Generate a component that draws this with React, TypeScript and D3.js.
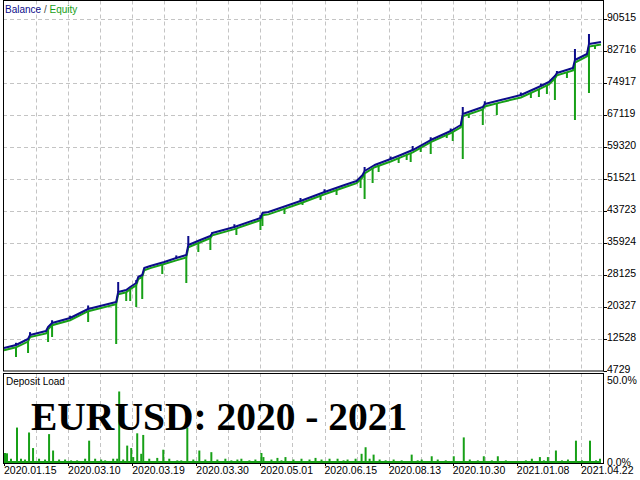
import React from 'react';
import * as d3 from 'd3';

// balance curve: [deal number, balance]
const balance: [number, number][] = [
  [0, 10334], [6, 11065], [12, 12527], [13, 13502], [21, 14477], [22, 15452],
  [24, 16427], [33, 17645], [42, 19838], [56, 21544], [57, 23981], [61, 24469],
  [63, 25200], [66, 26175], [67, 27637], [69, 28124], [70, 29830], [73, 30318],
  [80, 31292], [86, 32267], [91, 32998], [92, 35435], [98, 36654], [103, 37629],
  [104, 38360], [115, 39822], [128, 42015], [129, 43234], [132, 43477], [148, 46158],
  [160, 48351], [170, 50057], [176, 51032], [179, 52494], [180, 53469], [185, 54931],
  [193, 56393], [198, 57368], [204, 58587], [213, 61024], [223, 63217], [228, 64679],
  [229, 67360], [239, 69066], [240, 69797], [248, 70772], [258, 71990], [268, 74184],
  [272, 75158], [275, 76621], [276, 77352], [284, 78570], [285, 80520], [291, 81982],
  [292, 84419], [298, 84906],
];

// short balance peaks: [deal, peak]
const balanceSpikes: [number, number][] = [
  [6, 11600], [13, 14200], [24, 17100], [33, 18200], [42, 20700], [57, 26418], [66, 26900],
  [86, 32900], [92, 37629], [104, 38603], [115, 40500], [128, 42700], [148, 46900],
  [160, 49000], [180, 54444], [193, 57000], [204, 59562], [213, 61700], [223, 63800],
  [229, 69066], [240, 70500], [258, 72600], [268, 74800], [276, 77839], [285, 83200],
  [292, 86856],
];

// equity curve: [deal, equity]
const equity: [number, number][] = [
  [0, 9800], [6, 10500], [12, 11900], [13, 13000], [21, 13900], [22, 14900],
  [24, 15900], [33, 17100], [42, 19300], [56, 21000], [57, 23400], [61, 23900],
  [63, 24700], [66, 25600], [67, 27100], [69, 27600], [70, 29300], [73, 29800],
  [80, 30800], [86, 31700], [91, 32400], [92, 34900], [98, 36100], [103, 37100],
  [104, 37800], [115, 39300], [128, 41500], [129, 42700], [132, 42900], [148, 45600],
  [160, 47800], [170, 49500], [176, 50500], [179, 51900], [180, 52900], [185, 54400],
  [193, 55800], [198, 56800], [204, 58000], [213, 60500], [223, 62700], [228, 64100],
  [229, 66800], [239, 68500], [240, 69200], [248, 70200], [258, 71400], [268, 73600],
  [272, 74600], [275, 76000], [276, 76800], [284, 78000], [285, 79900], [291, 81400],
  [292, 83800], [298, 84300],
];

// equity drawdowns: [deal, lowest equity]
const equityDips: [number, number][] = [
  [6, 8141], [12, 9116], [22, 11796], [24, 13015], [42, 16670], [56, 11309],
  [61, 21788], [63, 21788], [66, 20326], [69, 22275], [79, 28368], [91, 26175],
  [97, 33729], [103, 34217], [116, 37872], [128, 39091], [129, 40066], [140, 42990],
  [149, 45183], [158, 46402], [166, 47620], [178, 49326], [180, 46645], [184, 50545],
  [187, 53225], [197, 55419], [201, 56150], [203, 55662], [208, 58099], [213, 57612],
  [221, 61511], [224, 60780], [229, 56393], [232, 66385], [239, 64679], [246, 67116],
  [263, 71259], [267, 71503], [271, 72234], [275, 70772], [281, 76133], [285, 65898],
  [292, 72478], [295, 83200],
];

// deposit load: [deal, percent]
const depositLoad: [number, number][] = [
  [0, 5.5], [1, 5.3], [3, 2], [6, 21], [8, 2], [10, 1.5], [12, 18], [14, 8.5], [17, 2],
  [20, 1.5], [22, 17], [24, 7], [27, 1.5], [30, 1.5], [33, 1], [36, 1], [40, 2], [42, 13],
  [45, 2], [48, 1.5], [50, 1], [54, 2], [56, 2], [57, 43], [59, 1.5], [61, 10], [63, 8.5],
  [64, 3], [66, 17.5], [68, 5], [69, 16.5], [72, 2], [76, 2.5], [79, 7.5], [82, 2],
  [86, 1], [88, 1], [91, 21], [94, 1.5], [97, 7], [100, 1.5], [103, 6], [106, 1.5],
  [110, 2], [113, 1], [116, 1.5], [118, 2], [122, 1], [125, 1.5], [128, 5.5], [129, 3],
  [133, 1.5], [136, 2.5], [138, 1], [140, 3], [144, 1.5], [148, 2], [152, 1.5], [155, 2.5],
  [158, 1.5], [162, 2], [166, 2], [169, 1], [171, 1.5], [175, 2], [178, 5], [180, 9],
  [182, 2], [184, 4.5], [187, 1.5], [190, 1], [194, 1.5], [198, 1], [203, 4.5], [206, 1],
  [208, 1.5], [213, 3.5], [216, 1.5], [220, 1], [224, 3.5], [229, 15], [232, 1.5],
  [236, 1], [239, 3.5], [243, 1], [246, 3.5], [250, 1], [255, 0.5], [260, 1], [263, 2],
  [267, 3], [269, 1], [271, 3], [275, 7], [278, 1], [281, 1.5], [285, 13], [288, 1],
  [292, 13], [295, 1], [297, 2],
];

const valueTicks = [4729, 12528, 20327, 28125, 35924, 43723, 51521, 59320, 67119, 74917, 82716, 90515];
const dateLabels = [
  '2020.01.15', '2020.03.10', '2020.03.19', '2020.03.30', '2020.05.01',
  '2020.06.15', '2020.08.13', '2020.10.30', '2021.01.08', '2021.04.22',
];
const loadTicks = [0, 50];

const BLUE = '#0c0c8a';
const GREEN = '#17a017';
const GRID = '#c4c4c4';
const FONT = '"Liberation Sans", Arial, sans-serif';

export default function App() {
  const width = 640;
  const height = 480;
  const left = 3, right = 603;
  const mainTop = 0.5, mainBottom = 371;
  const loadTop = 373, loadBottom = 463;

  const x = d3.scaleLinear().domain([0, 299]).range([4, 603]);
  const y = d3.scaleLinear().domain([4729, 90515]).range([371, 19]);
  const yLoad = d3.scaleLinear().domain([0, 50]).range([462, 380]);

  const balanceAt = d3.scaleLinear().domain(balance.map(d => d[0])).range(balance.map(d => d[1]));
  const equityAt = d3.scaleLinear().domain(equity.map(d => d[0])).range(equity.map(d => d[1]));

  const line = d3.line<[number, number]>().x(d => x(d[0])).y(d => y(d[1]));
  const gridX = d3.range(16, 299, 16);

  return (
    <svg width={width} height={height} style={{ position: 'absolute', left: 0, top: 0, background: '#fff' }}
      fontFamily={FONT}>
      <defs>
        <clipPath id="mainClip">
          <rect x={left} y={mainTop} width={right - left} height={mainBottom - mainTop} />
        </clipPath>
        <clipPath id="loadClip">
          <rect x={left} y={loadTop} width={right - left} height={loadBottom - loadTop} />
        </clipPath>
      </defs>
      <rect width={width} height={height} fill="#fff" />

      {/* grid */}
      <g stroke={GRID} strokeDasharray="4,3" strokeWidth={1}>
        {valueTicks.slice(1).map(v => (
          <line key={v} x1={left} x2={right} y1={Math.round(y(v)) + 0.5} y2={Math.round(y(v)) + 0.5} />
        ))}
        {gridX.map(t => (
          <g key={t}>
            <line x1={Math.round(x(t)) + 0.5} x2={Math.round(x(t)) + 0.5} y1={mainTop} y2={mainBottom} />
            <line x1={Math.round(x(t)) + 0.5} x2={Math.round(x(t)) + 0.5} y1={loadTop} y2={loadBottom} />
          </g>
        ))}
      </g>

      {/* balance / equity */}
      <g clipPath="url(#mainClip)">
        <path d={line(equity) || ''} fill="none" stroke={GREEN} strokeWidth={2} />
        {equityDips.map(([t, v]) => (
          <line key={'e' + t} x1={x(t)} x2={x(t)} y1={y(equityAt(t))} y2={y(v)} stroke={GREEN} strokeWidth={2} />
        ))}
        <path d={line(balance) || ''} fill="none" stroke={BLUE} strokeWidth={2} strokeLinejoin="round" />
        {balanceSpikes.map(([t, v]) => (
          <line key={'b' + t} x1={x(t)} x2={x(t)} y1={y(balanceAt(t))} y2={y(v)} stroke={BLUE} strokeWidth={2} />
        ))}
      </g>

      {/* deposit load */}
      <g clipPath="url(#loadClip)">
        {depositLoad.map(([t, p]) => (
          <line key={'d' + t} x1={x(t) + 1} x2={x(t) + 1} y1={yLoad(0)} y2={yLoad(p)} stroke={GREEN} strokeWidth={2} />
        ))}
        <line x1={left} x2={x(298)} y1={yLoad(0)} y2={yLoad(0)} stroke={GREEN} strokeWidth={2} />
      </g>

      {/* frames */}
      <rect x={left + 0.5} y={mainTop} width={right - left} height={mainBottom - mainTop} fill="none" stroke="#000" />
      <rect x={left + 0.5} y={loadTop + 0.5} width={right - left} height={loadBottom - loadTop} fill="none" stroke="#000" />

      {/* right axis */}
      <g fontSize={10.5} fill="#000">
        {valueTicks.map(v => (
          <g key={v}>
            <line x1={right + 0.5} x2={right + 4} y1={Math.round(y(v)) + 0.5} y2={Math.round(y(v)) + 0.5} stroke="#000" />
            <text x={right + 4} y={y(v) - 1} dominantBaseline="middle">{v}</text>
          </g>
        ))}
        {loadTicks.map(p => (
          <text key={p} x={right + 4} y={yLoad(p) + 1} dominantBaseline="middle">{p.toFixed(1)}%</text>
        ))}
      </g>

      {/* date axis */}
      <g fontSize={10.5} fill="#000">
        {dateLabels.map((d, i) => (
          <g key={d}>
            <line x1={Math.round(x(i * 32)) + 0.5} x2={Math.round(x(i * 32)) + 0.5} y1={loadBottom} y2={loadBottom + 3} stroke="#000" />
            <text x={x(i * 32)} y={474}>{d}</text>
          </g>
        ))}
      </g>

      {/* panel titles */}
      <text x={5} y={13} fontSize={10}>
        <tspan fill={BLUE}>Balance</tspan>
        <tspan fill="#444"> / </tspan>
        <tspan fill={GREEN}>Equity</tspan>
      </text>
      <text x={6} y={385} fontSize={10} fill="#000">Deposit Load</text>

      <text x={31} y={430} fontSize={39.5} fontWeight="bold" fontFamily='"Liberation Serif", "Times New Roman", serif' fill="#000">
        EURUSD: 2020 - 2021
      </text>
    </svg>
  );
}
